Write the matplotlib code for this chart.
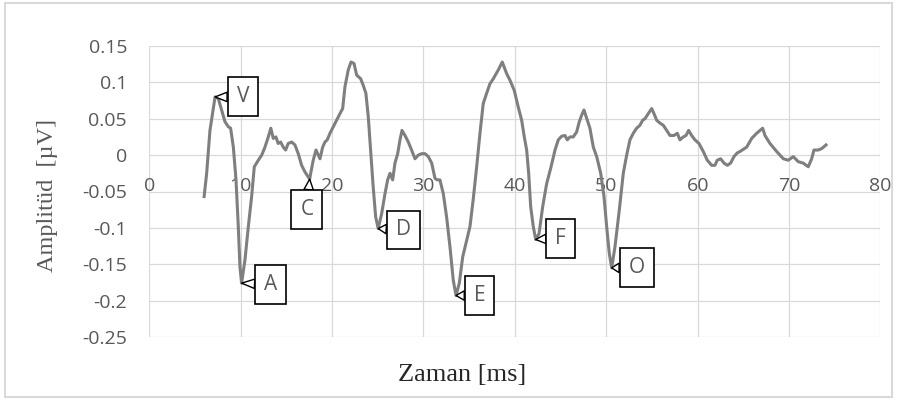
import numpy as np
import matplotlib
matplotlib.use("Agg")
from matplotlib import pyplot as plt
from matplotlib.patches import Rectangle

plt.rcParams['axes.unicode_minus'] = False
plt.rcParams['font.family'] = ['Open Sans', 'DejaVu Sans']

# waveform (time in ms, amplitude in uV)
t = [6.0, 6.28, 6.64, 7.2, 7.55, 7.92, 8.28, 8.65, 8.9, 9.2,
     9.49, 9.74, 9.92, 10.1, 10.47, 10.84, 11.2, 11.49, 11.93, 12.3,
     12.66, 13.02, 13.3, 13.57, 13.86, 14.1, 14.37, 14.66, 14.92, 15.2,
     15.58, 15.94, 16.3, 16.67, 17.03, 17.4, 17.55, 17.66, 17.94, 18.24,
     18.5, 18.68, 18.97, 19.22, 19.47, 19.77, 20.13, 20.5,
     20.86, 21.16, 21.41, 21.77, 22.07, 22.4, 22.69, 23.13, 23.41, 23.7,
     23.96, 24.22, 24.5, 24.77, 25.05, 25.43, 25.79, 26.08, 26.34, 26.63,
     26.88, 27.18, 27.43, 27.65, 27.98, 28.34, 28.7, 29.07, 29.43, 29.8,
     30.16, 30.53, 30.9, 31.26, 31.51, 31.8, 32.17, 32.53, 32.9, 33.26,
     33.56, 33.92, 34.29, 34.73, 35.09, 35.45, 35.82,
     36.18, 36.54, 36.91, 37.27, 37.64, 38.18, 38.62, 39.1, 39.46, 39.93,
     40.37, 40.74, 41.03, 41.29, 41.51, 41.73, 42.01, 42.28, 42.64, 43.04,
     43.48, 43.92, 44.39, 44.75, 45.12, 45.48, 45.73, 46.03, 46.39, 46.76,
     47.05, 47.31, 47.56, 47.92, 48.21, 48.58, 48.95, 49.39, 49.75, 50.04,
     50.33, 50.59,
     50.95, 51.42, 51.86, 52.23, 52.59, 52.95, 53.32, 53.68, 53.98, 54.23,
     54.59, 54.97, 55.22, 55.51, 55.87, 56.24, 56.6, 56.97, 57.4, 57.77,
     58.06, 58.42, 58.72, 59.01, 59.34, 59.7, 60.14, 60.61, 61.05, 61.53,
     61.89, 62.14, 62.51, 62.88, 63.24, 63.6, 63.97, 64.33,
     64.63, 65.36, 65.91, 66.45, 67.11, 67.36, 67.91, 68.64, 69.37, 69.91,
     70.46, 71.0, 71.55, 72.1, 72.47, 72.72, 73.19, 73.57, 74.04]
amp = [-0.057, -0.025, 0.034, 0.080, 0.078, 0.062, 0.046, 0.039, 0.037, 0.011,
       -0.034, -0.098, -0.153, -0.176, -0.144, -0.098, -0.057, -0.016, -0.007, 0.0,
       0.011, 0.025, 0.037, 0.023, 0.025, 0.016, 0.018, 0.011, 0.007, 0.016,
       0.018, 0.014, 0.002, -0.014, -0.023, -0.030, -0.033, -0.025, -0.007, 0.007,
       0.0, -0.005, 0.011, 0.018, 0.021, 0.030, 0.039, 0.048,
       0.057, 0.064, 0.094, 0.117, 0.128, 0.126, 0.110, 0.105, 0.096, 0.085,
       0.053, 0.007, -0.044, -0.085, -0.101, -0.080, -0.053, -0.034, -0.025, -0.034,
       -0.011, 0.002, 0.021, 0.034, 0.027, 0.018, 0.007, -0.005, 0.0, 0.002,
       0.002, -0.002, -0.011, -0.032, -0.034, -0.034, -0.053, -0.085, -0.126, -0.172,
       -0.193, -0.176, -0.140, -0.117, -0.098, -0.060, -0.016,
       0.030, 0.071, 0.085, 0.098, 0.105, 0.117, 0.128, 0.112, 0.103, 0.089,
       0.066, 0.048, 0.025, 0.007, -0.025, -0.071, -0.098, -0.116, -0.108, -0.071,
       -0.039, -0.018, 0.007, 0.021, 0.026, 0.027, 0.021, 0.025, 0.025, 0.032,
       0.046, 0.055, 0.062, 0.048, 0.037, 0.011, -0.002, -0.025, -0.057, -0.098,
       -0.135, -0.155,
       -0.126, -0.076, -0.025, 0.0, 0.021, 0.030, 0.037, 0.041, 0.048, 0.050,
       0.057, 0.064, 0.057, 0.048, 0.044, 0.041, 0.034, 0.027, 0.027, 0.030,
       0.021, 0.025, 0.027, 0.034, 0.027, 0.021, 0.016, 0.005, -0.007, -0.014,
       -0.014, -0.007, -0.005, -0.011, -0.014, -0.011, -0.002, 0.003,
       0.005, 0.011, 0.023, 0.030, 0.037, 0.027, 0.016, 0.005, -0.005, -0.007,
       -0.002, -0.009, -0.011, -0.016, -0.005, 0.007, 0.007, 0.009, 0.014]

# wave labels and the time of the point each one marks
peak_names = ['V', 'A', 'C', 'D', 'E', 'F', 'O']
peak_t = [7.2, 10.1, 17.55, 25.05, 33.56, 42.28, 50.59]
# callout offsets (points)
peak_off = [(20, 0), (21, -1), (-2, -22), (18, -1), (17, 0), (18, 1), (18, 0)]

x_ticks = [0, 10, 20, 30, 40, 50, 60, 70, 80]
y_ticks = [-0.25, -0.2, -0.15, -0.1, -0.05, 0, 0.05, 0.1, 0.15]

fig = plt.figure(figsize=(8.97, 4.0), dpi=100)
ax = fig.add_axes([0.1664, 0.1575, 0.8152, 0.7275])

ax.plot(t, amp, color='#7f7f7f', lw=2.2, solid_joinstyle='round', zorder=3)

ax.set_xlim(0, 80)
ax.set_ylim(-0.25, 0.15)
ax.set_xticks(x_ticks)
ax.set_yticks(y_ticks)
ax.set_xticklabels([str(v) for v in x_ticks])
ax.set_yticklabels(['%g' % v for v in y_ticks])
ax.grid(True, color='#d9d9d9', lw=0.9)
ax.set_axisbelow(True)
for s in ax.spines.values():
    s.set_visible(False)
ax.spines['bottom'].set_position(('data', 0))
ax.tick_params(axis='both', length=0, labelsize=14, labelcolor='#595959')
ax.tick_params(axis='x', pad=16)
ax.tick_params(axis='y', pad=16)

for name, pt, off in zip(peak_names, peak_t, peak_off):
    yv = amp[t.index(pt)]
    ax.annotate(name, xy=(pt, yv), xytext=off, textcoords='offset points',
                ha='center', va='center', fontsize=15, color='#595959', zorder=5,
                bbox=dict(boxstyle='square,pad=0.43', fc='white', ec='black', lw=1.2),
                arrowprops=dict(arrowstyle='wedge,tail_width=0.45,shrink_factor=0.5',
                                fc='white', ec='black', lw=1.0, shrinkA=0, shrinkB=0))

fig.text(0.0524, 0.511, 'Amplitüd  [µV]', rotation=90, ha='center', va='center',
         fontsize=17.5, family='Liberation Serif', color='#595959')
fig.text(0.515, 0.0625, 'Zaman [ms]', ha='center', va='center',
         fontsize=19, family='Liberation Serif', color='#262626')

fig.patches.append(Rectangle((0.006, 0.008), 0.988, 0.984, transform=fig.transFigure,
                             fill=False, ec='#d9d9d9', lw=1.5))

fig.savefig('out.png', dpi=100)
